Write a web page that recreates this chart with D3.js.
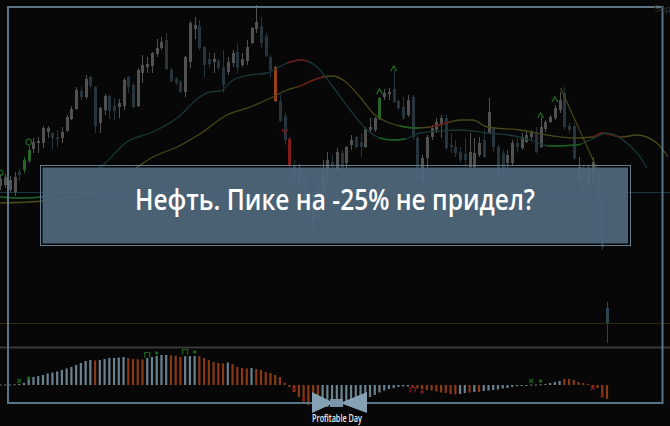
<!DOCTYPE html>
<html><head><meta charset="utf-8">
<script src="https://cdn.jsdelivr.net/npm/d3@7"></script>
<style>html,body{margin:0;padding:0;background:#070707;overflow:hidden}</style>
</head><body>
<svg id="c" width="670" height="426"></svg>
<script>
// ---- data ----
const opens = [51.4,51.5,51.0,50.8,52.8,53.0,53.9,55.1,55.7,55.7,
56.8,56.7,56.3,56.2,56.9,58.1,59.1,60.9,60.3,62.3,
61.3,57.7,59.0,60.4,59.4,59.3,59.4,62.3,61.5,59.4,
62.7,63.3,63.4,64.6,65.2,66.0,63.0,62.1,61.8,60.8,
63.8,67.1,67.4,65.3,64.1,63.8,63.9,63.3,62.8,63.7,
64.8,63.5,63.9,65.7,67.1,67.4,66.4,64.3,63.3,59.9,
58.4,56.1,53.4,51.8,52.6,50.0,48.2,49.6,51.0,52.8,
53.8,53.0,54.7,53.7,55.5,56.3,55.8,55.3,57.0,57.0,
58.1,60.3,60.6,61.1,59.9,59.3,58.5,60.3,56.2,52.0,
54.2,56.3,57.0,57.5,58.2,55.5,55.3,54.8,54.6,53.3,
53.3,54.5,56.0,56.7,57.2,55.3,54.7,53.7,53.7,55.7,
55.2,55.8,56.3,56.7,55.3,57.1,57.8,58.2,59.0,60.7,
57.4,57.4,52.0,53.0,51.5,52.7,52.5,50.3,39.2];
const highs = [52.6,52.6,52.4,52.8,53.1,54.3,55.4,56.2,56.3,57.4,
57.4,56.8,57.0,57.3,58.5,59.4,61.3,61.3,62.5,62.4,
61.4,59.3,60.6,60.5,60.2,60.1,62.2,62.4,61.7,63.2,
64.5,64.3,64.8,66.1,66.3,66.7,63.2,62.3,62.0,64.4,
67.9,68.3,68.0,65.4,64.8,64.7,64.1,65.0,64.3,65.0,
65.7,64.7,66.0,67.3,69.5,68.3,66.7,64.5,63.4,60.5,
58.7,56.3,54.0,53.6,53.0,50.5,50.6,51.5,54.0,54.8,
54.5,55.2,55.0,55.4,56.5,56.4,56.7,57.3,58.2,58.3,
60.3,61.1,61.2,63.0,60.1,60.3,60.5,60.5,56.4,54.5,
56.5,57.5,58.2,58.5,58.5,56.7,56.0,55.3,56.2,56.7,
56.2,56.3,57.0,60.2,57.3,55.5,55.0,55.0,56.0,56.2,
56.7,56.8,57.0,57.3,58.3,58.0,58.5,59.5,60.8,61.3,
57.7,57.7,54.3,53.5,53.5,54.3,53.0,51.5,39.8];
const lows = [51.0,51.2,50.7,50.4,51.9,52.7,53.7,54.7,54.7,55.2,
56.2,55.1,55.3,55.7,56.8,58.0,59.0,60.0,60.1,61.1,
56.7,56.7,58.5,58.1,58.0,58.2,59.0,60.7,59.2,59.3,
61.7,62.7,62.7,64.3,65.0,63.0,61.8,61.5,60.7,60.3,
63.2,66.1,65.0,62.3,63.2,62.7,63.0,60.7,62.5,63.3,
62.7,63.3,63.5,65.6,66.7,65.2,64.3,62.2,59.8,57.8,
55.5,51.0,50.8,50.6,49.2,47.4,46.8,48.0,49.6,51.8,
52.5,52.8,53.0,53.0,55.0,55.2,54.3,55.2,56.8,56.8,
58.0,60.0,60.0,59.7,59.0,58.0,58.3,56.0,50.3,51.0,
52.8,56.0,56.7,56.2,55.0,54.7,54.3,53.7,53.3,53.2,
53.0,54.3,54.2,56.6,54.8,52.2,52.0,53.2,53.5,54.7,
55.0,55.7,56.0,54.7,55.2,56.8,57.7,58.0,58.7,57.0,
56.7,54.0,51.7,50.2,51.0,51.7,50.0,45.0,35.7];
const closes = [52.1,52.3,52.0,52.3,52.5,54.0,55.0,55.8,55.9,57.2,
57.2,56.2,56.1,56.8,58.3,59.1,61.0,60.3,62.1,61.4,
57.4,59.2,60.4,58.9,58.9,59.7,62.0,61.3,59.3,63.0,
63.5,63.6,64.7,65.2,65.8,63.1,61.9,61.7,60.8,64.3,
67.7,67.5,65.2,63.5,63.6,64.1,63.2,61.5,63.8,64.7,
63.2,64.1,65.3,67.2,67.8,65.7,64.4,63.0,59.9,57.9,
56.0,53.4,51.8,52.6,50.0,48.2,49.6,51.0,52.8,54.0,
53.5,54.8,53.3,55.3,56.0,55.3,55.3,57.1,57.3,58.2,
60.2,60.7,60.8,59.8,59.2,58.2,60.0,56.3,52.0,54.2,
56.3,57.2,57.8,58.2,55.2,55.3,54.7,54.0,54.0,54.8,
54.7,55.7,54.3,58.8,55.3,52.8,53.0,54.5,55.7,55.3,
56.3,56.5,56.7,54.8,57.3,57.8,58.3,59.2,60.0,57.3,
57.0,54.2,53.3,51.2,53.0,53.8,50.3,45.3,37.7];

// signal candles (indicator states)
const greenSignal = [5, 6, 80];
const orangeSignal = [58];
const redSignal = [61, 123];

// moving averages: [bar index, price]
const fastMA = [[0,50.3],[4.2,50.2],[9,50.3],[14.7,51.5],[21.7,53.5],[26.7,55.8],[32.2,56.8],[37.3,58.2],
[42.1,60.3],[44.2,60.8],[46.4,60.9],[49.1,62.0],[52.7,62.5],[56.3,62.7],[60.5,63.7],[63.2,64.0],[64.7,63.9],
[66.8,63.3],[70.2,61.3],[73.8,59.0],[77.4,57.0],[80.1,56.2],[82.8,56.0],[85.4,56.1],[88.5,56.7],[92.8,56.9],
[97,57.0],[102.7,56.7],[109.6,56.3],[113,55.8],[116,55.4],[121.7,55.5],[124.4,56.0],[128,56.7],[132.2,55.7],
[135,54.3],[136.4,53.2]];
const slowMA = [[0,49.7],[9,49.9],[21,51.0],[28,53.0],[32.2,54.3],[37.3,55.3],[42.1,56.6],[47.8,58.5],
[52.7,59.3],[57.5,60.3],[60.5,61.0],[62.6,61.3],[68.1,62.3],[70.2,62.4],[72.3,62.0],[75.9,60.3],[78.6,58.7],
[81.6,57.8],[84.3,57.4],[87.5,57.2],[90.7,57.3],[94.9,57.8],[97,58.0],[99.7,58.0],[102.7,57.3],[109.6,57.0],
[116.6,56.4],[121.2,56.2],[125,56.3],[126.9,56.7],[131.2,56.3],[134.3,56.5],[138.5,55.7],[140.9,54.3]];
const fastUpRanges = [[0,9],[80,85.5],[115,122.5]];
const fastDownRanges = [[60.5,64.7]];
const slowUpRanges = [[84.3,88.5]];
const slowDownRanges = [[62.6,68.1],[90.7,94.9],[125,131.2]];
const trendLine = [[118.2,61.2],[130.3,48.5]];

// price levels
const levelA = 50.8;
const levelBid = 37.7;

// signal marks on price chart
const ringMarks = [[0,52.7,'up'],[6,55.8,'up'],[61,50.8,'down']];
const upArrows = [[80,60.9],[83,63.2],[114,58.5],[117,60.1]];
const downMarks = [[60,56.9]];

// MACD histogram (value, state: 1 rising, 0 falling)
const macd = [0.02,0.02,0.02,0.03,0.04,0.08,0.24,0.32,0.36,0.40,
0.46,0.50,0.54,0.60,0.66,0.72,0.80,0.88,0.96,1.00,
0.98,1.00,1.04,1.08,1.08,1.10,1.12,1.08,1.04,1.03,
1.02,1.08,1.12,1.16,1.20,1.20,1.19,1.17,1.12,1.15,
1.16,1.16,1.15,1.08,1.00,0.92,0.88,0.86,0.90,0.84,
0.72,0.68,0.66,0.68,0.64,0.60,0.52,0.48,0.40,0.32,
0.10,-0.08,-0.28,-0.48,-0.66,-0.80,-0.86,-0.90,-0.90,-0.88,
-0.86,-0.82,-0.80,-0.78,-0.76,-0.72,-0.68,-0.56,-0.48,-0.40,
-0.30,-0.22,-0.16,-0.12,-0.08,-0.06,-0.06,-0.10,-0.14,-0.18,
-0.20,-0.22,-0.26,-0.30,-0.32,-0.36,-0.38,-0.36,-0.32,-0.30,
-0.28,-0.28,-0.24,-0.22,-0.20,-0.18,-0.14,-0.12,-0.08,-0.05,
-0.03,-0.02,0.02,0.02,0.03,0.04,0.08,0.12,0.16,0.24,
0.24,0.20,0.12,0.08,0.04,-0.08,-0.12,-0.48,-0.56];
const macdState = [1,1,1,1,1,1,1,1,1,1, 1,1,1,1,1,1,1,1,1,1,
0,1,1,1,1,1,1,0,0,0, 0,1,1,1,1,1,0,0,0,1,
1,1,0,0,0,0,0,0,1,0, 0,0,0,1,0,0,0,0,0,0,
0,0,0,0,0,0,0,0,1,1, 1,1,1,1,1,1,1,1,1,1,
1,1,1,1,1,1,1,0,0,0, 0,0,0,0,0,0,0,1,1,0,
1,0,1,1,1,1,1,1,1,1, 1,1,1,1,1,1,1,1,1,0,
0,0,0,0,0,0,0,0,0];
const macdMarks = [[4,0.16,'x','up'],[6,0.28,'dot','up'],[31,1.2,'pi','up'],[33,1.28,'dot','up'],
[39,1.32,'pi','up'],[41,1.32,'dot','up'],[62,-0.16,'x','down'],[64,-0.56,'dot','down'],
[87,-0.2,'pi','down'],[89,-0.28,'dot','down'],[112,0.16,'x','up'],[114,0.16,'dot','up'],
[125,-0.12,'x','down'],[127,-0.44,'dot','down']];

const title = "Нефть. Пике на -25% не придел?";
const brand = "Profitable Day";
const cornerLabel = "Sep";

// ---- drawing ----
const svg = d3.select('#c');
const W = 670, H = 426;
const x = d3.scaleLinear().domain([0, 128]).range([0.3, 607]);
const y = d3.scaleLinear().domain([35.3, 69.3]).range([347, 7]);
const ym = d3.scaleLinear().domain([-1, 1.4]).range([410, 350]);

svg.append('rect').attr('width', W).attr('height', H).attr('fill', '#070707');

// price levels and separator
svg.append('line').attr('x1',0).attr('x2',W).attr('y1',Math.round(y(levelA))+0.5).attr('y2',Math.round(y(levelA))+0.5)
  .attr('stroke','#1b3540').attr('stroke-width',1);
svg.append('line').attr('x1',0).attr('x2',W).attr('y1',Math.round(y(levelBid))+0.5).attr('y2',Math.round(y(levelBid))+0.5)
  .attr('stroke','#32270f').attr('stroke-width',1);
svg.append('line').attr('x1',0).attr('x2',W).attr('y1',347.5).attr('y2',347.5)
  .attr('stroke','#393939').attr('stroke-width',2);

// candles
const idx = d3.range(opens.length);
const colorOf = i => {
  if (greenSignal.includes(i)) return '#276527';
  if (orangeSignal.includes(i)) return '#963f18';
  if (redSignal.includes(i)) return '#821a1a';
  if (i === opens.length - 1) return '#2e4550';
  return closes[i] >= opens[i] ? '#515151' : '#26353d';
};
const cg = svg.append('g');
cg.selectAll('line.w').data(idx).join('line')
  .attr('x1', i => Math.round(x(i)) + 0.5).attr('x2', i => Math.round(x(i)) + 0.5)
  .attr('y1', i => y(highs[i])).attr('y2', i => y(lows[i]))
  .attr('stroke', colorOf).attr('stroke-width', 1);
cg.selectAll('rect').data(idx).join('rect')
  .attr('x', i => Math.round(x(i)) - 1).attr('width', 3)
  .attr('y', i => y(Math.max(opens[i], closes[i])))
  .attr('height', i => Math.max(1, Math.abs(y(opens[i]) - y(closes[i]))))
  .attr('fill', colorOf);

// moving averages
const line = d3.line().x(d => x(d[0])).y(d => y(d[1])).curve(d3.curveMonotoneX);
const defs = svg.append('defs');
let clipId = 0;
function drawMA(data, base, ranges) {
  svg.append('path').attr('d', line(data)).attr('fill','none').attr('stroke', base).attr('stroke-width', 1.3);
  ranges.forEach(([r, col]) => {
    const id = 'clip' + (clipId++);
    defs.append('clipPath').attr('id', id).append('rect')
      .attr('x', x(r[0])).attr('width', x(r[1]) - x(r[0])).attr('y', 0).attr('height', H);
    svg.append('path').attr('d', line(data)).attr('fill','none').attr('stroke', col)
      .attr('stroke-width', 1.4).attr('clip-path', `url(#${id})`);
  });
}
drawMA(slowMA, '#4a4819', slowUpRanges.map(r => [r, '#1c5f1c']).concat(slowDownRanges.map(r => [r, '#701616'])));
drawMA(fastMA, '#183838', fastUpRanges.map(r => [r, '#1c5f1c']).concat(fastDownRanges.map(r => [r, '#701616'])));
svg.append('path').attr('d', d3.line().x(d => x(d[0])).y(d => y(d[1]))(trendLine))
  .attr('fill','none').attr('stroke','#4e4a16').attr('stroke-width',1.1);

// marks
svg.selectAll('circle.ring').data(ringMarks).join('circle')
  .attr('cx', d => x(d[0])).attr('cy', d => y(d[1])).attr('r', 2.8)
  .attr('fill','none').attr('stroke', d => d[2] === 'up' ? '#1f5f1f' : '#721818').attr('stroke-width', 1.2);
svg.selectAll('path.ua').data(upArrows).join('path')
  .attr('d', d => { const cx = x(d[0]), cy = y(d[1]); return `M${cx-3},${cy+3}L${cx},${cy-2}L${cx+3},${cy+3}`; })
  .attr('fill','none').attr('stroke','#226a22').attr('stroke-width',1.4);
svg.selectAll('path.da').data(downMarks).join('path')
  .attr('d', d => { const cx = x(d[0]), cy = y(d[1]); return `M${cx-3},${cy-2}L${cx},${cy+2}L${cx+3},${cy-2}`; })
  .attr('fill','none').attr('stroke','#7a1a1a').attr('stroke-width',1.3);

// MACD histogram
svg.append('g').selectAll('rect').data(idx).join('rect')
  .attr('x', i => x(i) - 1.1).attr('width', 2.2)
  .attr('y', i => Math.min(ym(0), ym(macd[i])))
  .attr('height', i => Math.max(1, Math.abs(ym(macd[i]) - ym(0))))
  .attr('fill', i => macdState[i] ? '#6a8190' : '#8a3915');
const mg = svg.append('g');
macdMarks.forEach(([i, v, t, s]) => {
  const cx = x(i), cy = ym(v), col = s === 'up' ? '#1d601d' : '#821a1a';
  if (t === 'dot') mg.append('circle').attr('cx', cx).attr('cy', cy).attr('r', 1.8).attr('fill', col);
  else if (t === 'x') mg.append('path').attr('d', `M${cx-2},${cy-2}L${cx+2},${cy+2}M${cx+2},${cy-2}L${cx-2},${cy+2}`)
    .attr('stroke', col).attr('stroke-width', 1.2);
  else mg.append('path').attr('d', `M${cx-2.5},${cy+2.5}L${cx-2.5},${cy-2.5}L${cx+2.5},${cy-2.5}L${cx+2.5},${cy+2.5}`)
    .attr('fill','none').attr('stroke', col).attr('stroke-width', 1.2);
});

// frame
const fc = '#5a7485';
const frame = svg.append('g').attr('stroke', fc).attr('stroke-width', 2).attr('fill','none');
frame.append('path').attr('d', 'M312,403L8,403L8,7L662.5,7L662.5,403L367,403');

// corner label
svg.append('text').attr('x', 654).attr('y', 12).attr('font-family','DejaVu Sans, sans-serif')
  .attr('font-size', 9).attr('fill', '#333333').text(cornerLabel);

// banner
svg.append('rect').attr('x', 40.5).attr('y', 165.5).attr('width', 590).attr('height', 80)
  .attr('fill','none').attr('stroke','#667f90').attr('stroke-width',1);
svg.append('rect').attr('x', 42.5).attr('y', 167.5).attr('width', 585.5).attr('height', 76)
  .attr('fill','#4f687c').attr('fill-opacity',0.93);
svg.append('text').attr('x', 335).attr('y', 210).attr('text-anchor','middle')
  .attr('font-family','Open Sans, Noto Sans, sans-serif').attr('font-size', 29.5).attr('font-weight', 600)
  .attr('fill','#ffffff').attr('textLength', 400).attr('lengthAdjust','spacingAndGlyphs').text(title);

// logo
const logo = svg.append('g');
logo.append('path').attr('d','M312,392L312,413L334,403Z').attr('fill','#86a1b3');
logo.append('path').attr('d','M367,392L367,413L340,403Z').attr('fill','#86a1b3');
logo.append('rect').attr('x',330).attr('y',399).attr('width',13).attr('height',8).attr('fill','#7894a6');
logo.append('text').attr('x', 337).attr('y', 421.5).attr('text-anchor','middle')
  .attr('font-family','Open Sans, sans-serif').attr('font-size', 10).attr('font-weight', 600).attr('fill','#eeeeee')
  .attr('textLength', 50).attr('lengthAdjust','spacingAndGlyphs').text(brand);
</script>
</body></html>
